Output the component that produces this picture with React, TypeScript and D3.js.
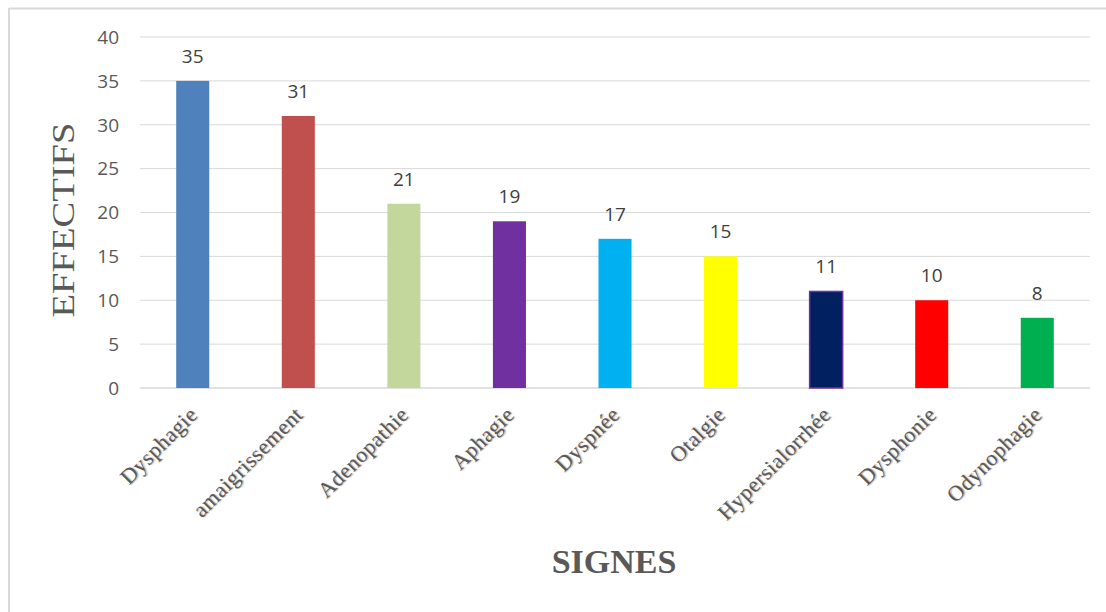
import React from "react";
import * as d3 from "d3";

const categories = ["Dysphagie", "amaigrissement", "Adenopathie", "Aphagie", "Dyspnée", "Otalgie", "Hypersialorrhée", "Dysphonie", "Odynophagie"];
const values = [35, 31, 21, 19, 17, 15, 11, 10, 8];
const colors = ["#4F81BD", "#C0504D", "#C3D69B", "#7030A0", "#00B0F0", "#FFFF00", "#002060", "#FF0000", "#00B050"];
const strokes = ["none", "none", "none", "none", "none", "none", "#7030A0", "none", "none"];
const yTicks = [0, 5, 10, 15, 20, 25, 30, 35, 40];

const W = 1106, H = 612;
const left = 140, right = 1090, top = 37, bottom = 388;

export default function App() {
  const x = d3.scaleBand<string>().domain(categories).range([left, right]).paddingInner(0.687).paddingOuter(0.343);
  const y = d3.scaleLinear().domain([0, 40]).range([bottom, top]);
  const bw = x.bandwidth();
  return (
    <svg width={W} height={H} style={{ position: "absolute", left: 0, top: 0, background: "#fff" }}>
      <rect x={0} y={0} width={W} height={H} fill="#fff" />
      <line x1={9} y1={8.5} x2={W} y2={8.5} stroke="#D9D9D9" strokeWidth={2} />
      <line x1={9} y1={8} x2={9} y2={H} stroke="#D9D9D9" strokeWidth={2} />
      {yTicks.map((t) => (
        <g key={t}>
          <line x1={left} x2={right} y1={y(t)} y2={y(t)} stroke="#D9D9D9" strokeWidth={t === 0 ? 1.5 : 1} />
          <text x={119} y={y(t)} dy="0.36em" textAnchor="end" fontFamily="'Open Sans', sans-serif" fontSize={19} fill="#595959">{t}</text>
        </g>
      ))}
      {categories.map((c, i) => {
        const bx = x(c)!;
        const cx = bx + bw / 2;
        return (
          <g key={c}>
            <rect x={bx} y={y(values[i])} width={bw} height={bottom - y(values[i])} fill={colors[i]} stroke={strokes[i]} strokeWidth={1.5} />
            <text x={cx} y={y(values[i]) - 18} textAnchor="middle" fontFamily="'Open Sans', sans-serif" fontSize={19} fill="#404040">{values[i]}</text>
            <text transform={`translate(${cx + 6},${bottom + 28}) rotate(-45)`} textAnchor="end" fontFamily="'Liberation Serif', 'Times New Roman', serif" fontSize={22} letterSpacing={0.5} fill="#595959" style={{ textShadow: "1px 1px 1px rgba(0,0,0,0.3)" }}>{c}</text>
          </g>
        );
      })}
      <text transform={`translate(74,220) rotate(-90)`} textAnchor="middle" fontFamily="'Liberation Serif', 'Times New Roman', serif" fontSize={31} fill="#595959" textLength={195} lengthAdjust="spacingAndGlyphs">EFFECTIFS</text>
      <text x={614} y={573} textAnchor="middle" fontFamily="'Liberation Serif', 'Times New Roman', serif" fontWeight="bold" fontSize={34} fill="#595959">SIGNES</text>
    </svg>
  );
}
